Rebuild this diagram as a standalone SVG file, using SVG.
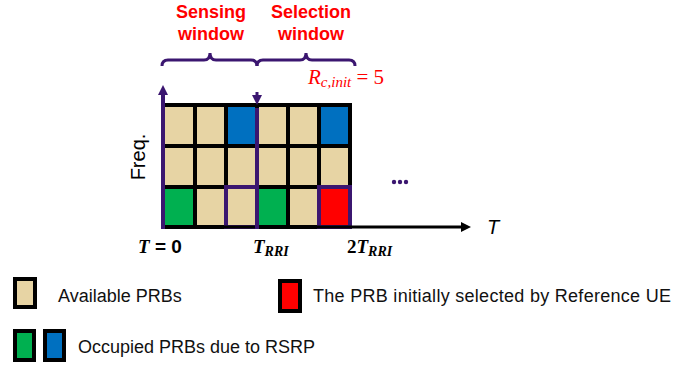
<svg xmlns="http://www.w3.org/2000/svg" width="677" height="366" viewBox="0 0 677 366">
<defs>
<style>
.cell{stroke:#000;stroke-width:4;stroke-linejoin:miter}
.tan{fill:#E7D4A4}
.blue{fill:#0070C0}
.green{fill:#00B050}
.red{fill:#FF0000}
.pur{stroke:#3B1670;fill:none}
.lbl{font-family:"Liberation Sans",Arial,sans-serif;fill:#000}
.win{font-family:"Liberation Sans",Arial,sans-serif;font-weight:bold;font-size:18px;fill:#FF0000;text-anchor:middle}
.math{font-family:"Liberation Serif","Times New Roman",serif;font-style:italic}
.leg{font-family:"Liberation Sans",Arial,sans-serif;font-size:18px;fill:#111}
</style>
<marker id="ahP" markerWidth="10" markerHeight="10" refX="5" refY="5" orient="auto" markerUnits="userSpaceOnUse">
<path d="M0,0 L10,5 L0,10 Z" fill="#3B1670"/>
</marker>
<marker id="ahK" markerWidth="10" markerHeight="10" refX="5" refY="5" orient="auto" markerUnits="userSpaceOnUse">
<path d="M0,0 L10,5 L0,10 Z" fill="#000"/>
</marker>
</defs>
<rect width="677" height="366" fill="#fff"/>

<!-- window labels -->
<g id="sensing-label">
<text class="win" x="211" y="18">Sensing</text>
<text class="win" x="211" y="40">window</text>
</g>
<g id="selection-label">
<text class="win" x="311" y="18">Selection</text>
<text class="win" x="311" y="40">window</text>
</g>
<g id="rcinit">
<text x="308" y="84" fill="#FF0000" font-size="21"><tspan class="math">R</tspan><tspan class="math" font-size="15" dy="3">c,init</tspan><tspan font-family="'Liberation Serif',serif" dy="-3"> = 5</tspan></text>
</g>

<!-- braces -->
<g id="braces">
<path class="pur" stroke-width="3" d="M162,66 Q162,60 168,60 L204,60 Q210,60 210,53 Q210,60 216,60 L251,60 Q257,60 257,66"/>
<path class="pur" stroke-width="3" d="M257,66 Q257,60 263,60 L300,60 Q306,60 306,53 Q306,60 312,60 L349,60 Q355,60 355,66"/>
</g>

<!-- grid of PRBs -->
<g id="grid">
<rect class="cell tan" x="163" y="105" width="32" height="41"/>
<rect class="cell tan" x="195" y="105" width="31" height="41"/>
<rect class="cell blue" x="226" y="105" width="31" height="41"/>
<rect class="cell tan" x="257" y="105" width="31" height="41"/>
<rect class="cell tan" x="288" y="105" width="31" height="41"/>
<rect class="cell blue" x="319" y="105" width="31" height="41"/>
<rect class="cell tan" x="163" y="146" width="32" height="41"/>
<rect class="cell tan" x="195" y="146" width="31" height="41"/>
<rect class="cell tan" x="226" y="146" width="31" height="41"/>
<rect class="cell tan" x="257" y="146" width="31" height="41"/>
<rect class="cell tan" x="288" y="146" width="31" height="41"/>
<rect class="cell tan" x="319" y="146" width="31" height="41"/>
<rect class="cell green" x="163" y="187" width="32" height="40"/>
<rect class="cell tan" x="195" y="187" width="31" height="40"/>
<rect class="cell tan" x="226" y="187" width="31" height="40" style="stroke:#3B1670"/>
<rect class="cell green" x="257" y="187" width="31" height="40"/>
<rect class="cell tan" x="288" y="187" width="31" height="40"/>
<rect class="cell red" x="319" y="187" width="31" height="40" style="stroke:#3B1670"/>
</g>

<!-- axes and arrows -->
<g id="connectors">
<line x1="163" y1="227" x2="466" y2="227" stroke="#000" stroke-width="3" marker-end="url(#ahK)"/>
<line class="pur" x1="163" y1="229" x2="163" y2="90" stroke-width="4" marker-end="url(#ahP)"/>
<line class="pur" x1="257" y1="92" x2="257" y2="100" stroke-width="3" marker-end="url(#ahP)"/>
<line class="pur" x1="257" y1="108" x2="257" y2="229" stroke-width="4"/>
</g>

<g id="dots" fill="#3B1670">
<circle cx="394" cy="182" r="2.2"/>
<circle cx="400" cy="182" r="2.2"/>
<circle cx="406" cy="182" r="2.2"/>
</g>

<!-- axis labels -->
<g id="axis-labels">
<text class="lbl" transform="translate(145,157) rotate(-90)" font-size="20" text-anchor="middle">Freq.</text>
<text class="lbl" x="487" y="234" font-size="20" font-style="italic">T</text>
<text x="138" y="253" font-size="19" font-weight="bold"><tspan class="math">T</tspan><tspan font-family="'Liberation Sans',Arial,sans-serif"> = 0</tspan></text>
<text x="253" y="253" font-size="19" font-weight="bold"><tspan class="math">T</tspan><tspan class="math" font-size="14" dy="3">RRI</tspan></text>
<text x="347" y="253" font-size="19" font-weight="bold"><tspan font-family="'Liberation Serif',serif">2</tspan><tspan class="math">T</tspan><tspan class="math" font-size="14" dy="3">RRI</tspan></text>
</g>

<!-- legend -->
<g id="legend-available">
<rect class="cell tan" x="15" y="279" width="20" height="28"/>
<text class="leg" x="58" y="302">Available PRBs</text>
</g>
<g id="legend-selected">
<rect class="cell red" x="280" y="281" width="20" height="30"/>
<text class="leg" x="313" y="302" textLength="358" lengthAdjust="spacing">The PRB initially selected by Reference UE</text>
</g>
<g id="legend-occupied">
<rect class="cell green" x="15" y="331" width="19" height="29"/>
<rect class="cell blue" x="45" y="331" width="19" height="29"/>
<text class="leg" x="78" y="353">Occupied PRBs due to RSRP</text>
</g>
</svg>
